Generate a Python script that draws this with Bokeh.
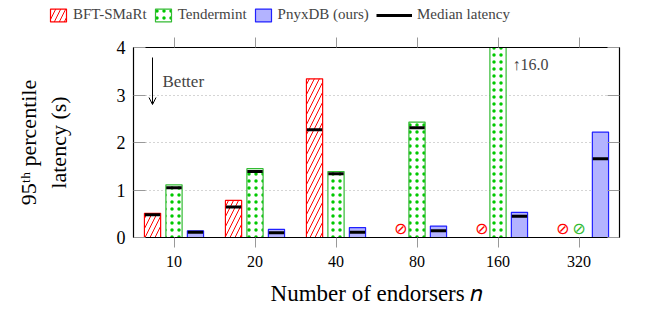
from bokeh.plotting import figure
from bokeh.layouts import column
from bokeh.models import (ColumnDataSource, FactorRange, Range1d, FixedTicker, LinearAxis,
                          CategoricalAxis, Legend, LegendItem, Label, Arrow, OpenHead)
from bokeh.transform import dodge
from bokeh.embed import file_html
from bokeh.resources import INLINE
from bokeh.core.properties import value

nan = float("nan")
endorsers = ["10", "20", "40", "80", "160", "320"]
bft_p95 = [0.51, 0.78, 3.34, nan, nan, nan]
bft_median = [0.48, 0.64, 2.27, nan, nan, nan]
tm_p95 = [1.11, 1.45, 1.39, 2.43, 16.0, nan]
tm_median = [1.05, 1.39, 1.34, 2.31, nan, nan]
pnyx_p95 = [0.14, 0.17, 0.21, 0.24, 0.53, 2.22]
pnyx_median = [0.11, 0.10, 0.11, 0.14, 0.45, 1.66]
bft_failed = ["80", "160", "320"]
tm_failed = ["320"]
y_ticks = [0, 1, 2, 3, 4]
series_names = ["BFT-SMaRt", "Tendermint", "PnyxDB (ours)", "Median latency"]

FONT = "Liberation Serif"
RED = "#ff0000"
GREEN_LINE = "#33bb33"
GREEN_DOT = "#00c800"
BLUE_FILL = "#b3b3ff"
BLUE_LINE = "#2020ff"
TICK_GREY = "#999999"

BFT_STYLE = dict(fill_color="white", line_color=RED, line_width=1.2,
                 hatch_pattern="/", hatch_color=RED, hatch_scale=10, hatch_weight=1)
TM_STYLE = dict(fill_color="white", line_color=GREEN_LINE, line_width=1.2,
                hatch_pattern=".", hatch_color=GREEN_DOT, hatch_scale=7, hatch_weight=2)
PX_STYLE = dict(fill_color=BLUE_FILL, line_color=BLUE_LINE, line_width=1.2)
MED_STYLE = dict(line_color="black", line_width=3, line_cap="butt")

src = ColumnDataSource(dict(x=endorsers, bft=bft_p95, bft_med=bft_median,
                            tm=tm_p95, tm_med=tm_median,
                            px=pnyx_p95, px_med=pnyx_median))
xr = FactorRange(*endorsers, range_padding=0)

p = figure(x_range=xr, y_range=Range1d(0, 4),
           frame_width=486, frame_height=190,
           min_border_left=133, min_border_right=29, min_border_top=17, min_border_bottom=72,
           output_backend="svg", toolbar_location=None)
p.background_fill_color = "white"
p.border_fill_color = "white"
p.outline_line_color = "black"
p.outline_line_width = 1.2

# axes
xa = p.below[0]
xa.major_tick_out = 10
xa.major_tick_in = 0
xa.major_tick_line_color = TICK_GREY
xa.axis_line_color = "black"
xa.major_label_text_font = FONT
xa.major_label_text_font_size = "16px"
xa.major_label_text_color = "black"
xa.major_label_standoff = 8
xa.axis_label = "Number of endorsers \U0001D45B"
xa.axis_label_text_font = FONT
xa.axis_label_text_font_size = "23px"
xa.axis_label_text_font_style = "normal"
xa.axis_label_text_color = "black"
xa.axis_label_standoff = 11

ya = p.left[0]
ya.ticker = FixedTicker(ticks=y_ticks)
ya.major_tick_in = 12
ya.major_tick_out = 0
ya.minor_tick_line_color = None
ya.major_tick_line_color = TICK_GREY
ya.axis_line_color = "black"
ya.major_label_text_font = FONT
ya.major_label_text_font_size = "18px"
ya.major_label_text_color = "black"
ya.major_label_standoff = 8
ya.axis_label = "95\u1d57\u02b0 percentile\nlatency (s)"
ya.axis_label_text_font = FONT
ya.axis_label_text_font_size = "22px"
ya.axis_label_text_font_style = "normal"
ya.axis_label_text_color = "black"
ya.axis_label_standoff = 43

top_ax = CategoricalAxis(major_tick_out=10, major_tick_in=0, major_tick_line_color=TICK_GREY,
                         axis_line_color="black", major_label_text_font_size="1px",
                         major_label_text_color=None, major_label_standoff=2)
p.add_layout(top_ax, "above")
right_ax = LinearAxis(ticker=FixedTicker(ticks=y_ticks), major_tick_in=12, major_tick_out=0,
                      minor_tick_line_color=None, major_tick_line_color=TICK_GREY,
                      axis_line_color="black", major_label_text_font_size="1px",
                      major_label_text_color=None)
p.add_layout(right_ax, "right")

p.xgrid.grid_line_color = None
p.ygrid.ticker = FixedTicker(ticks=[1, 2, 3])
p.ygrid.grid_line_color = "#aaaaaa"
p.ygrid.grid_line_dash = "1 3"
p.ygrid.grid_line_width = 1

W = 0.2
OFF = 0.265
HW = 0.095


def draw_series(fig):
    rb = fig.vbar(x=dodge("x", -OFF, range=xr), top="bft", width=W, source=src, **BFT_STYLE)
    rt = fig.vbar(x=dodge("x", 0, range=xr), top="tm", width=W, source=src, **TM_STYLE)
    rp = fig.vbar(x=dodge("x", OFF, range=xr), top="px", width=W, source=src, **PX_STYLE)
    rm = None
    for off, col in [(-OFF, "bft_med"), (0, "tm_med"), (OFF, "px_med")]:
        rm = fig.segment(x0=dodge("x", off - HW, range=xr), x1=dodge("x", off + HW, range=xr),
                         y0=col, y1=col, source=src, **MED_STYLE)
    return rb, rt, rp, rm


draw_series(p)

# failed runs
bft_fail_src = ColumnDataSource(dict(x=bft_failed))
tm_fail_src = ColumnDataSource(dict(x=tm_failed))
p.text(x=dodge("x", -0.2, range=xr), y=0.2, text=value("\u2298"), source=bft_fail_src,
       text_font=value("DejaVu Sans"), text_font_size="16px", text_color=RED,
       text_align="center", text_baseline="middle")
p.text(x=dodge("x", 0, range=xr), y=0.2, text=value("\u2298"), source=tm_fail_src,
       text_font=value("DejaVu Sans"), text_font_size="16px", text_color=GREEN_LINE,
       text_align="center", text_baseline="middle")

# annotations
p.add_layout(Arrow(x_start=19, y_start=180, x_end=19, y_end=133, start_units="screen",
                   end_units="screen", line_width=1, line_color="black",
                   end=OpenHead(size=7, line_width=1, line_color="black")))
p.add_layout(Label(x=29, y=156, x_units="screen", y_units="screen", text="Better",
                   text_font=FONT, text_font_size="17px", text_align="left",
                   text_baseline="middle"))
p.add_layout(Label(x=379, y=173, x_units="screen", y_units="screen",
                   text="\u2191%.1f" % tm_p95[4], text_font=FONT, text_font_size="16px",
                   text_align="left", text_baseline="middle"))

# legend strip: a separate figure whose frame spans the whole strip; its y range
# lies far above the data, so the series it holds only feed the legend swatches
lf = figure(width=648, height=30, x_range=xr, y_range=Range1d(100, 101),
            x_axis_type=None, y_axis_type=None, min_border=0,
            output_backend="svg", toolbar_location=None)
if "frame_align" in lf.properties():
    lf.frame_align = False
    p.frame_align = False
lf.outline_line_color = None
lf.background_fill_color = "white"
lf.border_fill_color = "white"
l_bft, l_tm, l_px, l_med = draw_series(lf)

common = dict(orientation="horizontal", glyph_height=16, label_standoff=5, spacing=6,
              padding=0, margin=0, border_line_color=None, background_fill_alpha=0,
              label_text_font=FONT, label_text_font_size="15px", label_height=16)
leg1 = Legend(items=[LegendItem(label=series_names[0], renderers=[l_bft]),
                     LegendItem(label=series_names[1], renderers=[l_tm]),
                     LegendItem(label=series_names[2], renderers=[l_px])],
              location=(48, 7), glyph_width=20, **common)
leg2 = Legend(items=[LegendItem(label=series_names[3], renderers=[l_med])],
              location=(376, 7), glyph_width=36, **common)
lf.add_layout(leg1)
lf.add_layout(leg2)

layout = column(lf, p, spacing=0)
open("out.html", "w").write(file_html(layout, INLINE))
